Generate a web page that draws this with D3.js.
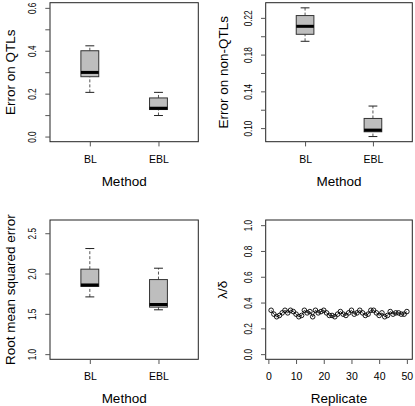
<!DOCTYPE html>
<html>
<head>
<meta charset="utf-8">
<script src="https://cdn.jsdelivr.net/npm/d3@7"></script>
<style>
  html, body { margin: 0; padding: 0; background: #fff; }
  svg { display: block; }
  text { font-family: "Liberation Sans", Arial, Helvetica, sans-serif; fill: #000; }
</style>
</head>
<body>
<svg id="chart" width="415" height="406"></svg>
<script>
// ---------------- data ----------------
const methods = ["BL", "EBL"];
// boxplot stats: [lower whisker, Q1, median, Q3, upper whisker]
const qtlStats    = [[0.206, 0.279, 0.299, 0.400, 0.423], [0.098, 0.126, 0.132, 0.180, 0.206]];
const nonQtlStats = [[0.1945, 0.2021, 0.2108, 0.2225, 0.2309], [0.0908, 0.0960, 0.0978, 0.1105, 0.1240]];
const rmseStats   = [[1.71, 1.84, 1.858, 2.054, 2.31], [1.55, 1.583, 1.616, 1.925, 2.066]];
const ratioValues = [0.34, 0.31, 0.29, 0.30, 0.32, 0.34, 0.32, 0.34, 0.33, 0.31,
                     0.29, 0.30, 0.34, 0.32, 0.33, 0.29, 0.34, 0.32, 0.33, 0.34,
                     0.32, 0.30, 0.30, 0.29, 0.31, 0.33, 0.31, 0.30, 0.32, 0.34,
                     0.31, 0.32, 0.34, 0.32, 0.30, 0.31, 0.34, 0.34, 0.32, 0.30,
                     0.32, 0.29, 0.30, 0.33, 0.31, 0.32, 0.32, 0.31, 0.31, 0.33];
const qtlTicks = [0, 0.1, 0.2, 0.3, 0.4, 0.5, 0.6];
const qtlLabeled = [0, 0.2, 0.4, 0.6];
const nonQtlTicks = [0.10, 0.12, 0.14, 0.16, 0.18, 0.20, 0.22];
const nonQtlLabeled = [0.10, 0.14, 0.18, 0.22];
const rmseTicks = [1.0, 1.5, 2.0, 2.5];
const ratioTicks = [0, 0.2, 0.4, 0.6, 0.8, 1.0];
const replicateTicks = [0, 10, 20, 30, 40, 50];

// ---------------- layout ----------------
const svg = d3.select("#chart");
const panels = [
  { x0: 50,    x1: 198.3, y0: 2.7, y1: 141.7 },
  { x0: 265.7, x1: 412.3, y0: 2.7, y1: 141.7 },
  { x0: 50,    x1: 198.3, y0: 220, y1: 359.3 },
  { x0: 265.7, x1: 412.3, y0: 220, y1: 359.3 }
];
const TICK = 4.7;
const frameColor = "#222";
const tickColor = "#555";

function ext(lo, hi) { const d = (hi - lo) * 0.04; return [lo - d, hi + d]; }

function yAxis(g, p, y, ticks, labeled, fmt) {
  const ax = d3.axisLeft(y).tickValues(ticks).tickSize(TICK)
    .tickFormat(v => labeled.some(l => Math.abs(l - v) < 1e-9) ? fmt(v) : "");
  const a = g.append("g").attr("transform", `translate(${p.x0},0)`).call(ax);
  a.select(".domain").remove();
  a.selectAll(".tick line").attr("stroke", tickColor);
  a.selectAll(".tick text")
    .attr("x", null).attr("dy", null).attr("y", null)
    .attr("transform", "translate(-14,0) rotate(-90) scale(0.82,1)")
    .attr("text-anchor", "middle")
    .style("font-size", "10px")
    .style("font-family", '"Liberation Sans", Arial, sans-serif')
    .attr("fill", "#000");
}

function xAxis(g, p, x, ticks, fmt) {
  const ax = d3.axisBottom(x).tickValues(ticks).tickSize(TICK).tickFormat(fmt);
  const a = g.append("g").attr("transform", `translate(0,${p.y1})`).call(ax);
  a.select(".domain").remove();
  a.selectAll(".tick line").attr("stroke", tickColor);
  a.selectAll(".tick text")
    .attr("y", 21).attr("dy", null)
    .style("font-size", "10.5px")
    .style("font-family", '"Liberation Sans", Arial, sans-serif')
    .attr("fill", "#000");
}

function titles(g, p, xlab, ylab, ylabX) {
  g.append("text")
    .attr("x", (p.x0 + p.x1) / 2).attr("y", p.y1 + 44)
    .attr("text-anchor", "middle").style("font-size", "13.5px").text(xlab);
  g.append("text")
    .attr("transform", `translate(${ylabX},${(p.y0 + p.y1) / 2}) rotate(-90)`)
    .attr("text-anchor", "middle").style("font-size", "13.5px").text(ylab);
}

function frame(g, p) {
  g.append("rect").attr("x", p.x0).attr("y", p.y0)
    .attr("width", p.x1 - p.x0).attr("height", p.y1 - p.y0)
    .attr("fill", "none").attr("stroke", frameColor).attr("stroke-width", 1);
}

function boxPanel(p, stats, yDomain, ticks, labeled, fmt, ylab, ylabX) {
  const g = svg.append("g");
  const x = d3.scaleLinear().domain(ext(0.5, 2.5)).range([p.x0, p.x1]);
  const y = d3.scaleLinear().domain(yDomain).range([p.y1, p.y0]);
  const half = x(1.13) - x(1);
  stats.forEach((s, i) => {
    const cx = x(i + 1);
    // whiskers
    g.append("line").attr("x1", cx).attr("x2", cx).attr("y1", y(s[3])).attr("y2", y(s[4]))
      .attr("stroke", "#555").attr("stroke-dasharray", "3,2");
    g.append("line").attr("x1", cx).attr("x2", cx).attr("y1", y(s[0])).attr("y2", y(s[1]))
      .attr("stroke", "#555").attr("stroke-dasharray", "3,2");
    // caps
    [s[0], s[4]].forEach(v => {
      g.append("line").attr("x1", cx - half / 2).attr("x2", cx + half / 2)
        .attr("y1", y(v)).attr("y2", y(v)).attr("stroke", "#222");
    });
    // box
    g.append("rect").attr("x", cx - half).attr("width", 2 * half)
      .attr("y", y(s[3])).attr("height", y(s[1]) - y(s[3]))
      .attr("fill", "#bebebe").attr("stroke", "#333");
    // median
    g.append("line").attr("x1", cx - half).attr("x2", cx + half)
      .attr("y1", y(s[2])).attr("y2", y(s[2])).attr("stroke", "#000").attr("stroke-width", 3);
  });
  frame(g, p);
  yAxis(g, p, y, ticks, labeled, fmt);
  xAxis(g, p, x, [1, 2], (d) => methods[d - 1]);
  titles(g, p, "Method", ylab, ylabX);
}

const f1 = d3.format(".1f"), f2 = d3.format(".2f");

boxPanel(panels[0], qtlStats, ext(0, 0.6), qtlTicks, qtlLabeled, f1, "Error on QTLs", 14.5);
{
  const all = nonQtlStats.flat();
  boxPanel(panels[1], nonQtlStats, ext(d3.min(all), d3.max(all)), nonQtlTicks, nonQtlLabeled, f2,
           "Error on non-QTLs", 227.5);
}
boxPanel(panels[2], rmseStats, ext(1, 2.6), rmseTicks, rmseTicks, f1, "Root mean squared error", 14.5);

// scatter panel
{
  const p = panels[3];
  const g = svg.append("g");
  const pts = ratioValues.map((v, i) => ({ r: i + 1, v }));
  const x = d3.scaleLinear().domain(ext(1, 50)).range([p.x0, p.x1]);
  const y = d3.scaleLinear().domain(ext(0, 1)).range([p.y1, p.y0]);
  g.append("path").datum(pts)
    .attr("d", d3.line().x(d => x(d.r)).y(d => y(d.v)))
    .attr("fill", "none").attr("stroke", "#000").attr("stroke-width", 0.8);
  g.selectAll("circle.pt").data(pts).join("circle").attr("class", "pt")
    .attr("cx", d => x(d.r)).attr("cy", d => y(d.v)).attr("r", 2.3)
    .attr("fill", "none").attr("stroke", "#000").attr("stroke-width", 0.9);
  frame(g, p);
  yAxis(g, p, y, ratioTicks, ratioTicks, f1);
  xAxis(g, p, x, replicateTicks, d3.format("d"));
  titles(g, p, "Replicate", "λ/δ", 227);
}
</script>
</body>
</html>
